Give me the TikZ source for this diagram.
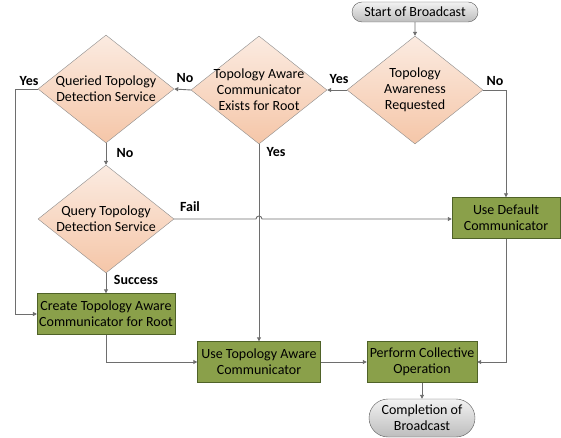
\documentclass[tikz,border=0pt]{standalone}
\usepackage{fontspec}
\setmainfont{Carlito}
\usetikzlibrary{positioning,arrows.meta,shapes.geometric,shapes.misc}

\definecolor{peachtop}{HTML}{FBEBE1}
\definecolor{peachbot}{HTML}{F5C6A8}
\definecolor{peachline}{HTML}{8C8C8C}
\definecolor{olive}{HTML}{8AA04A}
\definecolor{oliveline}{HTML}{4F6228}
\definecolor{greytop}{HTML}{F2F2F2}
\definecolor{greybot}{HTML}{BDBDBD}
\definecolor{flowline}{HTML}{6E6E6E}

\begin{document}
\begin{tikzpicture}[
    x=1pt, y=1pt,
    decision/.style={
        diamond,
        draw=peachline,
        top color=peachtop,
        bottom color=peachbot,
        aspect=1.25,
        inner sep=0pt,
        minimum width=136pt,
        minimum height=108pt,
        align=center,
        font=\fontsize{14}{16}\selectfont
    },
    process/.style={
        draw=oliveline,
        fill=olive,
        align=center,
        minimum height=41pt,
        inner sep=2pt,
        font=\fontsize{14}{16}\selectfont
    },
    terminal/.style={
        rounded rectangle,
        draw=black!65,
        top color=greytop,
        bottom color=greybot,
        align=center,
        inner sep=2pt,
        font=\fontsize{14}{16}\selectfont
    },
    arrow/.style={-{Triangle[length=4pt,width=4pt]}, draw=flowline, line width=0.9pt},
    label/.style={font=\fontsize{14}{16}\selectfont\bfseries, inner sep=1pt}
]
\useasboundingbox (0,0) rectangle (561,-438);

\node[terminal, minimum width=130pt, minimum height=20pt] (start) at (415,-12) {Start of Broadcast};

\node[decision] (askaware) at (415,-90) {Topology\\Awareness\\Requested};
\node[decision, inner sep=-3pt] (exists) at (259,-90) {Topology Aware\\Communicator\\Exists for Root};
\node[decision] (queried) at (106,-89) {Queried Topology\\Detection Service};
\node[decision] (query) at (106,-219) {Query Topology\\Detection Service};

\node[process, minimum width=137pt] (create) at (106,-314) {Create Topology Aware\\Communicator for Root};
\node[process, minimum width=123pt] (usetopo) at (259,-362) {Use Topology Aware\\Communicator};
\node[process, minimum width=110pt] (perform) at (422,-362) {Perform Collective\\Operation};
\node[process, minimum width=108pt] (usedef) at (506,-218) {Use Default\\Communicator};

\node[terminal, minimum width=110pt, minimum height=38pt] (done) at (422,-418) {Completion of\\Broadcast};

% decisions
\draw[arrow] (start) -- (askaware);
\draw[arrow] (askaware.west) -- (exists.east);
\draw[arrow] (askaware.east) -| (usedef.north);
\draw[arrow] (exists.west) -- (queried.east);
\draw[arrow] (exists.south) -- (exists.south |- usetopo.north);
\draw[arrow] (queried.west) -- ++(-22,0) |- (create.west);
\draw[arrow] (queried.south) -- (query.north);
\draw[arrow] (query.south) -- (create.north);

% fail line hops over the Yes line
\coordinate (hop) at (query.east -| exists.south);
\draw[arrow] (query.east) -- ([xshift=-3pt]hop) arc (180:0:3pt) -- (usedef.west |- query.east);

% processes
\draw[arrow] (create.south) |- (usetopo.west);
\draw[arrow] (usetopo.east) -- (perform.west);
\draw[arrow] (usedef.south) |- (perform.east);
\draw[arrow] (perform.south) -- (done.north);

% branch labels
\node[label] at (339,-79) {Yes};
\node[label] at (495,-81) {No};
\node[label] at (185,-78) {No};
\node[label] at (29,-81) {Yes};
\node[label] at (125,-153) {No};
\node[label] at (276,-152) {Yes};
\node[label] at (190,-207) {Fail};
\node[label] at (136,-280) {Success};

\end{tikzpicture}
\end{document}
